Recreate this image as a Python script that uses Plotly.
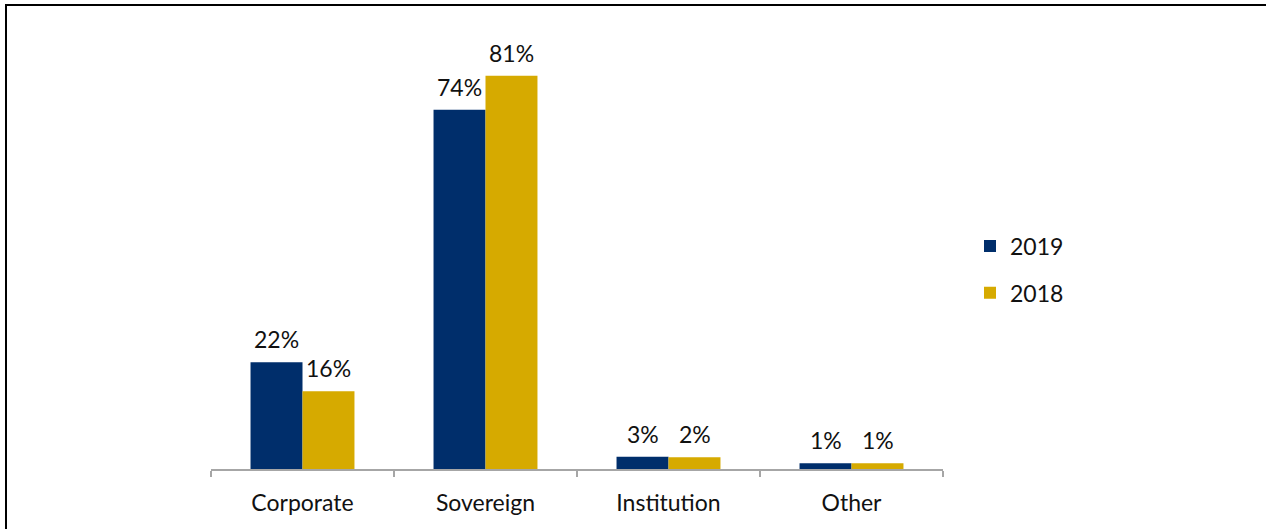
import plotly.graph_objects as go

categories = ["Corporate", "Sovereign", "Institution", "Other"]
series_names = ["2019", "2018"]
values_2019 = [0.22, 0.74, 0.025, 0.012]
values_2018 = [0.16, 0.81, 0.024, 0.012]
labels_2019 = ["22%", "74%", "3%", "1%"]
labels_2018 = ["16%", "81%", "2%", "1%"]
colors = ["#002E6B", "#D6AA00"]

W, H = 1266, 529
ML, MR, MT, MB = 211, 323, 32, 60
FONT = "Lato"
FS = 23

fig = go.Figure()
for i, (name, vals) in enumerate(zip(series_names, [values_2019, values_2018])):
    fig.add_trace(go.Bar(
        x=categories, y=vals, name=name,
        marker=dict(color=colors[i], line=dict(width=0)),
        legendgroup=name,
    ))

annotations = []
for vals, labs, shift in [(values_2019, labels_2019, -26), (values_2018, labels_2018, 26)]:
    for c, v, t in zip(categories, vals, labs):
        annotations.append(dict(
            x=c, y=v, xref="x", yref="y", text=t, showarrow=False,
            xshift=shift, yshift=23, yanchor="middle",
            font=dict(family=FONT, size=FS, color="#111111"),
        ))

pw = W - ML - MR
ph = H - MT - MB
# frame border (top and left visible)
bx0 = (6 - ML) / pw
by1 = (H - MB - 5) / ph
fig.add_shape(type="rect", xref="paper", yref="paper",
              x0=bx0, x1=(W + 20 - ML) / pw, y0=-(MB + 20) / ph, y1=by1,
              line=dict(color="black", width=2), layer="below")

fig.update_layout(
    width=W, height=H,
    margin=dict(l=ML, r=MR, t=MT, b=MB),
    paper_bgcolor="white", plot_bgcolor="white",
    barmode="group", bargap=0.432, bargroupgap=0,
    font=dict(family=FONT, size=FS, color="#111111"),
    annotations=annotations,
    showlegend=True,
    legend=dict(x=(970 - ML) / pw, y=(H - MB - 269.5) / ph, xanchor="left", yanchor="middle",
                tracegroupgap=14, font=dict(family=FONT, size=FS, color="#111111"),
                bgcolor="rgba(0,0,0,0)"),
    xaxis=dict(range=[-0.5, 3.5], showline=True, linecolor="#A6A6A6", linewidth=2,
               ticks="outside", tickson="boundaries", ticklen=6, tickcolor="#A6A6A6",
               tickwidth=2, showgrid=False, zeroline=False, ticklabelstandoff=12,
               tickfont=dict(family=FONT, size=FS, color="#111111")),
    yaxis=dict(range=[0, 0.9], visible=False, showgrid=False, zeroline=False),
)

fig.write_html("out.html")
